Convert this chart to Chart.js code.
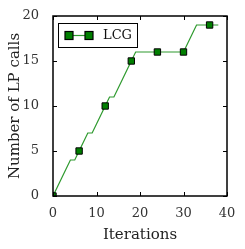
<!DOCTYPE html>
<html>
<head>
<meta charset="utf-8">
<script src="https://cdn.jsdelivr.net/npm/chart.js@4"></script>
<style>
  html, body { margin: 0; padding: 0; background: #fff; }
  #wrap { width: 245px; height: 249px; }
</style>
</head>
<body>
<div id="wrap"><canvas id="chart"></canvas></div>
<script>
// data
var iterations = [0,1,2,3,4,5,6,7,8,9,10,11,12,13,14,15,16,17,18,19,20,21,22,23,24,25,26,27,28,29,30,31,32,33,34,35,36,37,38];
var lpCalls    = [0,1,2,3,4,4,5,6,7,7,8,9,10,11,11,12,13,14,15,16,16,16,16,16,16,16,16,16,16,16,16,17,18,19,19,19,19,19,19];
var seriesName = "LCG";
var xTicks = [0, 10, 20, 30, 40];
var yTicks = [0, 5, 10, 15, 20];
var markEvery = 6;

var serif = "'DejaVu Serif', serif";

// frame, inward ticks and the boxed legend, matplotlib style
var framePlugin = {
  id: "frame",
  afterDraw: function (chart) {
    var c = chart.ctx, a = chart.chartArea;
    var xs = chart.scales.x, ys = chart.scales.y;
    c.save();
    c.strokeStyle = "#000";
    c.lineWidth = 1;
    c.beginPath();
    xTicks.forEach(function (v) {
      var px = Math.round(xs.getPixelForValue(v)) + 0.5;
      c.moveTo(px, a.bottom); c.lineTo(px, a.bottom - 4);
      c.moveTo(px, a.top); c.lineTo(px, a.top + 4);
    });
    yTicks.forEach(function (v) {
      var py = Math.round(ys.getPixelForValue(v)) + 0.5;
      c.moveTo(a.left, py); c.lineTo(a.left + 4, py);
      c.moveTo(a.right, py); c.lineTo(a.right - 4, py);
    });
    c.stroke();
    c.lineWidth = 1.5;
    c.strokeRect(a.left, a.top, a.right - a.left, a.bottom - a.top);

    // legend
    var lx = a.left + 5, ly = a.top + 7, lw = 79, lh = 24;
    c.fillStyle = "#fff";
    c.fillRect(lx, ly, lw, lh);
    c.lineWidth = 1;
    c.strokeRect(lx + 0.5, ly + 0.5, lw, lh);
    var my = ly + lh / 2 + 0.5;
    c.strokeStyle = "#2e9a2e";
    c.lineWidth = 1.2;
    c.beginPath(); c.moveTo(lx + 9, my); c.lineTo(lx + 33, my); c.stroke();
    [lx + 11, lx + 31].forEach(function (mx) {
      c.fillStyle = "#007f00";
      c.fillRect(mx - 4, my - 4, 8, 8);
      c.strokeStyle = "#000";
      c.strokeRect(mx - 4, my - 4, 8, 8);
    });
    c.fillStyle = "#111";
    c.font = "13px " + serif;
    c.textBaseline = "middle";
    c.fillText(seriesName, lx + 45, my);
    c.restore();
  }
};

var points = iterations.map(function (x, i) { return { x: x, y: lpCalls[i] }; });

var canvas = document.getElementById("chart");
var config = {
  type: "line",
  data: {
    datasets: [{
      label: seriesName,
      data: points,
      borderColor: "#2e9a2e",
      borderWidth: 1.2,
      tension: 0,
      pointStyle: "rect",
      pointBackgroundColor: "#007f00",
      pointBorderColor: "#000",
      pointBorderWidth: 1,
      pointRadius: function (ctx) { return ctx.dataIndex % markEvery === 0 ? 4.5 : 0; },
      pointHoverRadius: 0
    }]
  },
  options: {
    responsive: true,
    maintainAspectRatio: false,
    animation: false,
    events: [],
    layout: { padding: { left: 0, right: 18, top: 16, bottom: 0 } },
    plugins: {
      legend: { display: false },
      tooltip: { enabled: false }
    },
    scales: {
      x: {
        type: "linear",
        min: 0, max: 40,
        grid: { display: false },
        border: { display: false },
        afterBuildTicks: function (s) { s.ticks = xTicks.map(function (v) { return { value: v }; }); },
        afterFit: function (s) { s.height = 53; },
        ticks: { color: "#333", padding: 2, font: { family: serif, size: 13 } },
        title: { display: true, text: "Iterations", color: "#222", padding: { top: 1, bottom: 5 }, font: { family: serif, size: 15 } }
      },
      y: {
        min: 0, max: 20,
        grid: { display: false },
        border: { display: false },
        afterBuildTicks: function (s) { s.ticks = yTicks.map(function (v) { return { value: v }; }); },
        afterFit: function (s) { s.width = 53; },
        ticks: { color: "#333", padding: 6, font: { family: serif, size: 13 } },
        title: { display: true, text: "Number of LP calls", color: "#222", padding: { top: 6, bottom: 2 }, font: { family: serif, size: 15 } }
      }
    }
  },
  plugins: [framePlugin]
};

var lineChart = new Chart(canvas, config);
</script>
</body>
</html>
